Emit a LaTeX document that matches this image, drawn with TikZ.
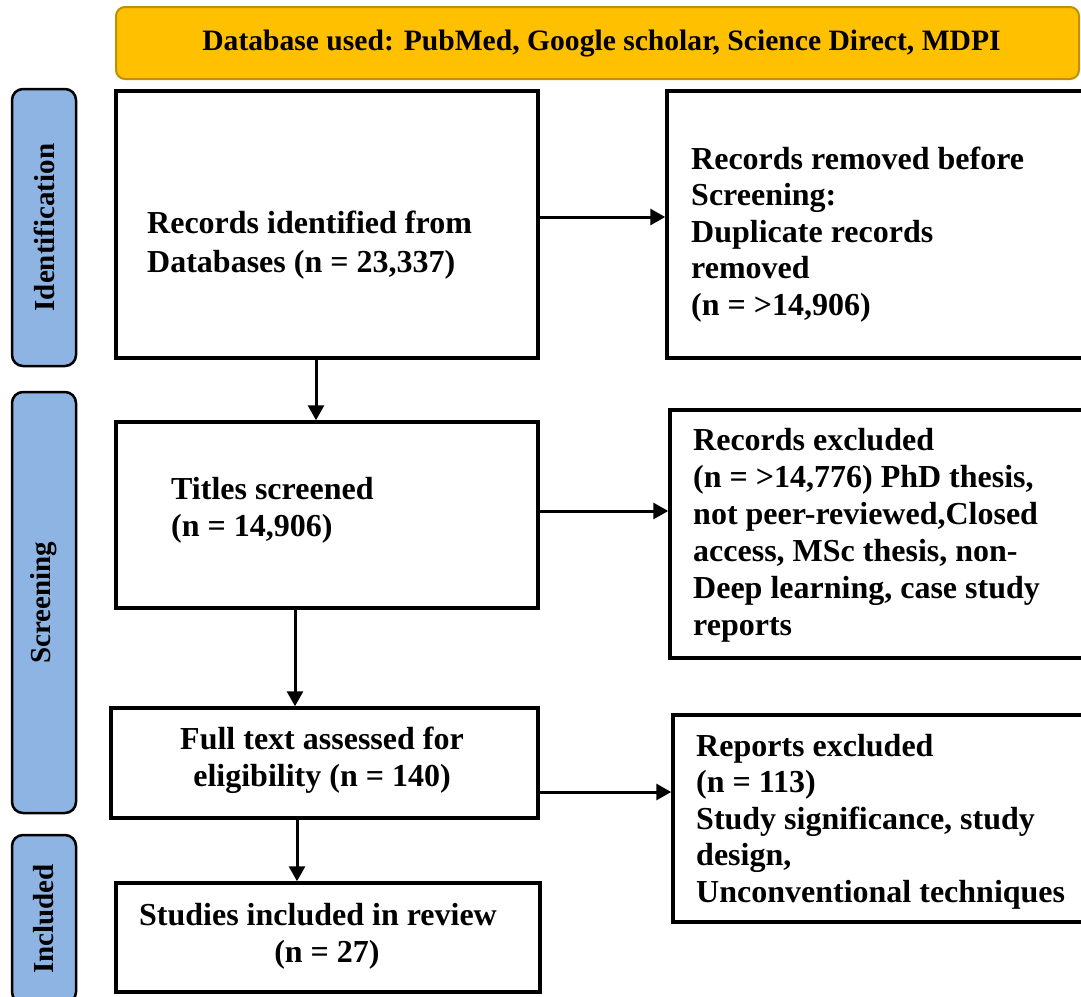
\documentclass[tikz,border=0pt]{standalone}
\usepackage{fontspec}
\setmainfont{Liberation Serif}
\usetikzlibrary{arrows.meta,calc}
\definecolor{gold}{HTML}{FFC000}
\definecolor{goldline}{HTML}{BF9000}
\definecolor{sideblue}{HTML}{8EB4E3}
\begin{document}
\begin{tikzpicture}[x=1pt,y=-1pt,
  rectbox/.style={draw=black,line width=3.5pt,inner sep=0pt,fill=white},
  banner/.style={draw=goldline,line width=2pt,fill=gold,rounded corners=9pt,inner sep=0pt,
    font=\bfseries\fontsize{29.6}{34}\selectfont},
  side/.style={draw=black,line width=2.5pt,fill=sideblue,rounded corners=11pt,inner sep=0pt,rotate=90,
    font=\bfseries\fontsize{29}{33}\selectfont},
  txt/.style={inner sep=0pt,align=left,font=\bfseries\fontsize{32}{37}\selectfont},
  arr/.style={line width=3pt,-{Triangle[length=15pt,width=16pt]}}]
\useasboundingbox (0,0) rectangle (1081,996);
\clip (0,0) rectangle (1081,996);
% banner
\node[banner,minimum width=963pt,minimum height=72pt] (db) at (597.5,43) {\raisebox{-4pt}{\hspace*{8pt}Database used: PubMed, Google scholar, Science Direct, MDPI}};
% side labels
\node[side,minimum width=277pt,minimum height=64pt] (lid) at (44,227.5) {Identification};
\node[side,minimum width=421pt,minimum height=64pt] (lsc) at (44,602.5) {Screening};
\node[side,minimum width=168pt,minimum height=64pt] (lin) at (44,919) {Included};
% boxes
\node[rectbox,minimum width=422pt,minimum height=267pt] (A) at (327,224.5) {};
\node[rectbox,minimum width=428pt,minimum height=267pt] (B) at (881,224.5) {};
\node[rectbox,minimum width=422pt,minimum height=186pt] (C) at (327,515) {};
\node[rectbox,minimum width=425pt,minimum height=248pt] (D) at (882.5,534) {};
\node[rectbox,minimum width=427pt,minimum height=110pt] (E) at (324.5,763) {};
\node[rectbox,minimum width=422pt,minimum height=207pt] (F) at (884,818.5) {};
\node[rectbox,minimum width=424pt,minimum height=109pt] (G) at (328,937.5) {};
% texts (base anchor = baseline of the last line)
\node[txt,anchor=base west,font=\bfseries\fontsize{32}{39}\selectfont] (tA) at (147,272) {Records identified from\\Databases (n = 23,337)};
\node[txt,anchor=base west,font=\bfseries\fontsize{32}{36.5}\selectfont] (tB) at (691,315) {Records removed before\\Screening:\\Duplicate records\\removed\\(n = >14,906)};
\node[txt,anchor=base west] (tC) at (171,536) {Titles screened\\(n = 14,906)};
\node[txt,anchor=base west] (tD) at (693,635) {Records excluded\\(n = >14,776) PhD thesis,\\not peer-reviewed,Closed\\access, MSc thesis, non-\\Deep learning, case study\\reports};
\node[txt,anchor=base,align=center] (tE) at (322,786) {Full text assessed for\\eligibility (n = 140)};
\node[txt,anchor=base west,font=\bfseries\fontsize{32}{36.5}\selectfont] (tF) at (696,902) {Reports excluded\\(n = 113)\\Study significance, study\\design,\\Unconventional techniques};
\node[txt,anchor=base,align=center] (tG) at (318,962) {Studies included in review\\\hspace*{18pt}(n = 27)};
% connectors
\coordinate (p1) at ([yshift=7.5pt]A.east);
\draw[arr] (p1) -- (p1 -| B.west);
\coordinate (p2) at ([yshift=4pt]C.east);
\draw[arr] (p2) -- (p2 -| D.west);
\coordinate (p3) at ([yshift=-29pt]E.east);
\draw[arr] (p3) -- (p3 -| F.west);
\coordinate (q1) at ([xshift=-11pt]A.south);
\draw[arr] (q1) -- (q1 |- C.north);
\coordinate (q2) at ([xshift=-32pt]C.south);
\draw[arr] (q2) -- (q2 |- E.north);
\coordinate (q3) at ([xshift=-27.5pt]E.south);
\draw[arr] (q3) -- (q3 |- G.north);
\end{tikzpicture}
\end{document}
